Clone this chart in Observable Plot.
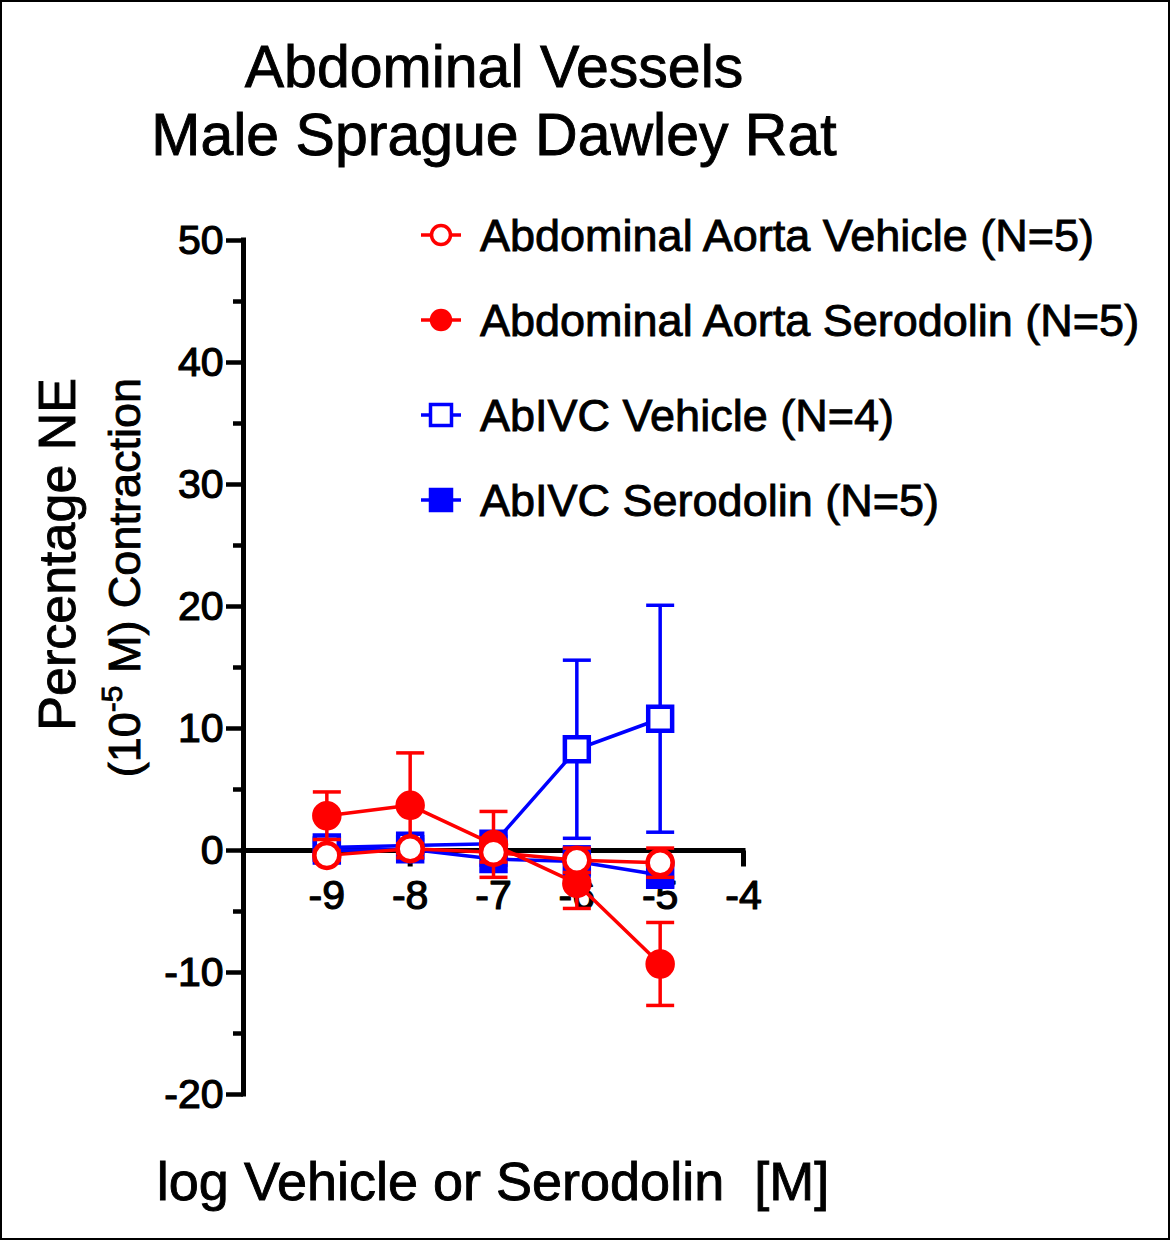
<!DOCTYPE html>
<html>
<head>
<meta charset="utf-8">
<script src="https://cdn.jsdelivr.net/npm/d3@7"></script>
<script src="https://cdn.jsdelivr.net/npm/@observablehq/plot@0.6"></script>
<style>
html, body { margin: 0; padding: 0; background: #fff; }
#wrap { position: relative; width: 1170px; height: 1240px; overflow: hidden; background: #fff; }
#border { position: absolute; left: 0; top: 0; width: 1170px; height: 1240px; box-sizing: border-box; border: 2px solid #000; pointer-events: none; }
#chart svg { display: block; }
</style>
</head>
<body>
<div id="wrap"><div id="chart"></div><div id="border"></div></div>
<script>
// ---------- data ----------
const doses = [-9, -8, -7, -6, -5];

const aortaVehicleMean = [-0.4, 0.15, -0.15, -0.8, -1.0];
const aortaVehicleSem  = [0.4, 0.4, 0.8, 1.0, 1.2];

const aortaSerodolinMean = [2.85, 3.7, 0.5, -2.7, -9.3];
const aortaSerodolinSem  = [1.95, 4.3, 2.7, 2.05, 3.4];

const ivcVehicleMean = [0.25, 0.4, 0.55, 8.3, 10.8];
const ivcVehicleSem  = [0.4, 0.5, 0.6, 7.3, 9.3];

const ivcSerodolinMean = [0.0, 0.1, -0.7, -0.9, -2.0];
const ivcSerodolinSem  = [0.3, 0.3, 0.5, 1.2, 0.9];

const seriesNames = [
  "Abdominal Aorta Vehicle (N=5)",
  "Abdominal Aorta Serodolin (N=5)",
  "AbIVC Vehicle (N=4)",
  "AbIVC Serodolin (N=5)"
];

const xTicks = [-9, -8, -7, -6, -5, -4];
const yTicks = [-20, -10, 0, 10, 20, 30, 40, 50];
const yMinorTicks = [-15, -5, 5, 15, 25, 35, 45];

const titleLines = ["Abdominal Vessels", "Male Sprague Dawley Rat"];
const xLabel = "log Vehicle or Serodolin  [M]";
const yLabelLine1 = "Percentage NE";
const yLabelLine2 = ["(10", "-5", " M) Contraction"];

// ---------- styling ----------
const RED = "#ff0000", BLUE = "#0000ff";
const FONT = "'Liberation Sans', Arial, Helvetica, sans-serif";

const series = [
  {name: seriesNames[0], mean: aortaVehicleMean,   sem: aortaVehicleSem,   color: RED,  symbol: "circle", filled: false},
  {name: seriesNames[1], mean: aortaSerodolinMean, sem: aortaSerodolinSem, color: RED,  symbol: "circle", filled: true},
  {name: seriesNames[2], mean: ivcVehicleMean,     sem: ivcVehicleSem,     color: BLUE, symbol: "square", filled: false},
  {name: seriesNames[3], mean: ivcSerodolinMean,   sem: ivcSerodolinSem,   color: BLUE, symbol: "square", filled: true}
];
const drawOrder = [3, 2, 1, 0];

const capSymbol = {draw(ctx) { ctx.moveTo(-14, 0); ctx.lineTo(14, 0); }};
const tickDownSymbol = {draw(ctx) { ctx.moveTo(0, 0); ctx.lineTo(0, 16); }};

const marks = [
  // axes
  Plot.ruleX([-10], {stroke: "black", strokeWidth: 5, strokeLinecap: "square"}),
  Plot.axisY({ticks: yTicks, tickSize: 17, tickPadding: 3, fontSize: 41, strokeWidth: 4.5, tickFormat: d => String(d), label: null}),
  Plot.axisY({ticks: yMinorTicks, tickSize: 10, strokeWidth: 4.5, tickFormat: () => "", label: null}),
  Plot.ruleY([0], {x1: -10, x2: -4, stroke: "black", strokeWidth: 5, strokeLinecap: "square"}),
  Plot.dot(xTicks, {x: d => d, y: () => 0, symbol: tickDownSymbol, r: 1, stroke: "black", strokeWidth: 5, fill: "none"}),
  Plot.text(xTicks, {x: d => d, y: () => 0, text: d => String(d), dy: 45, fontSize: 41, fill: "black",
                     stroke: "black", strokeWidth: 1.2})
];

for (const k of drawOrder) {
  const s = series[k];
  const rows = doses.map((d, i) => ({dose: d, mean: s.mean[i], sem: s.sem[i]}));
  marks.push(
    Plot.ruleX(rows, {x: "dose", y1: r => r.mean - r.sem, y2: r => r.mean + r.sem, stroke: s.color, strokeWidth: 3.5}),
    Plot.dot(rows, {x: "dose", y: r => r.mean + r.sem, symbol: capSymbol, r: 1, stroke: s.color, strokeWidth: 3.5, fill: "none"}),
    Plot.dot(rows, {x: "dose", y: r => r.mean - r.sem, symbol: capSymbol, r: 1, stroke: s.color, strokeWidth: 3.5, fill: "none"}),
    Plot.line(rows, {x: "dose", y: "mean", stroke: s.color, strokeWidth: 3.5}),
    Plot.dot(rows, {x: "dose", y: "mean", symbol: s.symbol, r: s.symbol === "circle" ? 12.5 : 13.5,
                    stroke: s.color, strokeWidth: 4.5, fill: s.filled ? s.color : "white"})
  );
}

const chart = Plot.plot({
  width: 1170,
  height: 1240,
  marginLeft: 243,
  marginRight: 427,
  marginTop: 240,
  marginBottom: 146,
  style: {fontFamily: FONT, background: "white", color: "black", overflow: "visible"},
  x: {domain: [-10, -4], axis: null},
  y: {domain: [-20, 50], label: null},
  marks
});

document.getElementById("chart").appendChild(chart);

// heavier y tick labels, like the reference
d3.select(chart).selectAll("g[aria-label='y-axis tick label'] text, g[aria-label='y-axis tick label']")
  .attr("stroke", "black").attr("stroke-width", 1.2);

// ---------- titles, labels, legend ----------
const svg = d3.select(chart);
const txt = svg.append("g").attr("font-family", FONT).attr("fill", "black")
  .attr("stroke", "black").attr("stroke-width", 0.9).attr("text-anchor", "middle");

txt.append("text").attr("x", 494).attr("y", 87).attr("text-anchor", "middle")
  .attr("font-size", 59).text(titleLines[0]);
txt.append("text").attr("x", 494).attr("y", 155).attr("text-anchor", "middle")
  .attr("font-size", 59).text(titleLines[1]);

txt.append("text").attr("x", 493).attr("y", 1200).attr("text-anchor", "middle")
  .attr("font-size", 54).style("white-space", "pre").attr("xml:space", "preserve").text(xLabel);

txt.append("text").attr("transform", "translate(75,378) rotate(-90)")
  .attr("text-anchor", "end").attr("font-size", 52).text(yLabelLine1);
const l2 = txt.append("text").attr("transform", "translate(140,378) rotate(-90)")
  .attr("text-anchor", "end").attr("font-size", 45);
l2.append("tspan").text(yLabelLine2[0]);
l2.append("tspan").attr("font-size", 30).attr("dy", -18).text(yLabelLine2[1]);
l2.append("tspan").attr("dy", 18).text(yLabelLine2[2]);

const legendY = [235, 320, 415, 500];
const leg = svg.append("g");
series.forEach((s, i) => {
  const g = leg.append("g").attr("transform", `translate(441,${legendY[i]})`);
  g.append("line").attr("x1", -20).attr("x2", 20).attr("stroke", s.color).attr("stroke-width", 3.5);
  const size = s.symbol === "circle" ? Math.PI * 9.5 * 9.5 : 21 * 21;
  g.append("path")
    .attr("d", d3.symbol(s.symbol === "circle" ? d3.symbolCircle : d3.symbolSquare, size)())
    .attr("fill", s.filled ? s.color : "white").attr("stroke", s.color).attr("stroke-width", 3.5);
  leg.append("text").attr("x", 480).attr("y", legendY[i] + 16).attr("font-family", FONT)
    .attr("text-anchor", "start").attr("font-size", 45).attr("fill", "black")
    .attr("stroke", "black").attr("stroke-width", 0.9).text(s.name);
});
</script>
</body>
</html>
